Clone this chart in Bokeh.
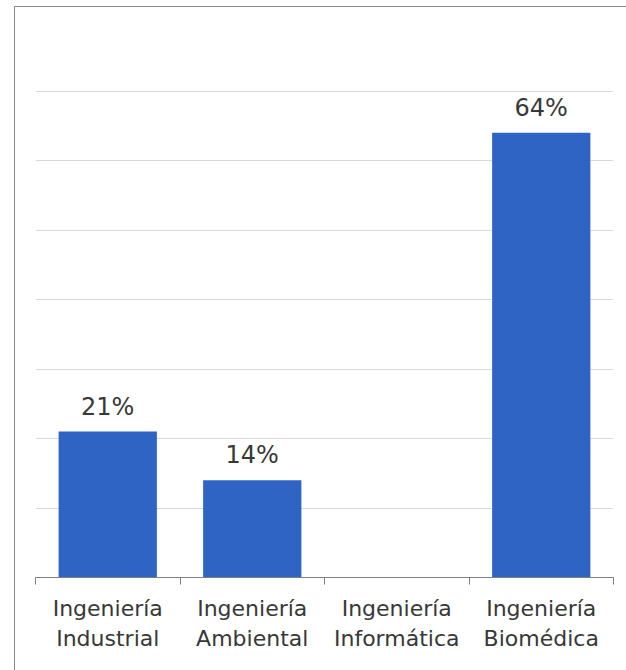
from bokeh.plotting import figure
from bokeh.models import Range1d, FixedTicker, ColumnDataSource
from bokeh.embed import file_html
from bokeh.resources import INLINE
from bokeh.core.properties import value

categories = ["Ingeniería\nIndustrial", "Ingeniería\nAmbiental", "Ingeniería\nInformática", "Ingeniería\nBiomédica"]
values = [21, 14, 0, 64]
y_ticks = [0, 10, 20, 30, 40, 50, 60, 70]

FONT = "DejaVu Sans"
xs = [i + 0.5 for i in range(len(categories))]

p = figure(width=612, height=664, output_backend="svg", toolbar_location=None,
           x_range=Range1d(0, len(categories)), y_range=Range1d(0, 76),
           min_border_left=20, min_border_right=14, min_border_top=42, min_border_bottom=94)
p.styles = {"border-left": "1px solid #8a8a8a", "border-top": "1px solid #8a8a8a",
            "margin-left": "14px", "margin-top": "6px"}
p.outline_line_color = None
p.background_fill_color = "white"
p.border_fill_color = "white"

src = ColumnDataSource(dict(x=xs, top=values))
p.vbar(x="x", top="top", width=0.68, source=src, fill_color="#2f64c5", line_color=None)

lx = [x for x, v in zip(xs, values) if v > 0]
lv = [v for v in values if v > 0]
ltxt = [f"{v}%" for v in lv]
lsrc = ColumnDataSource(dict(x=lx, y=lv, t=ltxt))
p.text(x="x", y="y", text="t", source=lsrc, y_offset=-11, text_align="center",
       text_baseline="bottom", text_font=value(FONT), text_font_size="24px", text_color="#383838")

p.yaxis.visible = False
p.ygrid.ticker = FixedTicker(ticks=y_ticks)
p.ygrid.grid_line_color = "#d9d9d9"
p.ygrid.grid_line_width = 1
p.xgrid.grid_line_color = None

ax = p.xaxis[0]
ax.ticker = FixedTicker(ticks=xs, minor_ticks=list(range(len(categories) + 1)))
ax.major_label_overrides = {x: c for x, c in zip(xs, categories)}
ax.major_tick_line_color = None
ax.minor_tick_line_color = "#808080"
ax.minor_tick_out = 7
ax.minor_tick_in = 0
ax.axis_line_color = "#808080"
ax.major_label_text_font = FONT
ax.major_label_text_font_size = "22px"
ax.major_label_text_line_height = 1.22
ax.major_label_text_color = "#383838"
ax.major_label_standoff = 11

open("out.html", "w").write(file_html(p, INLINE))
